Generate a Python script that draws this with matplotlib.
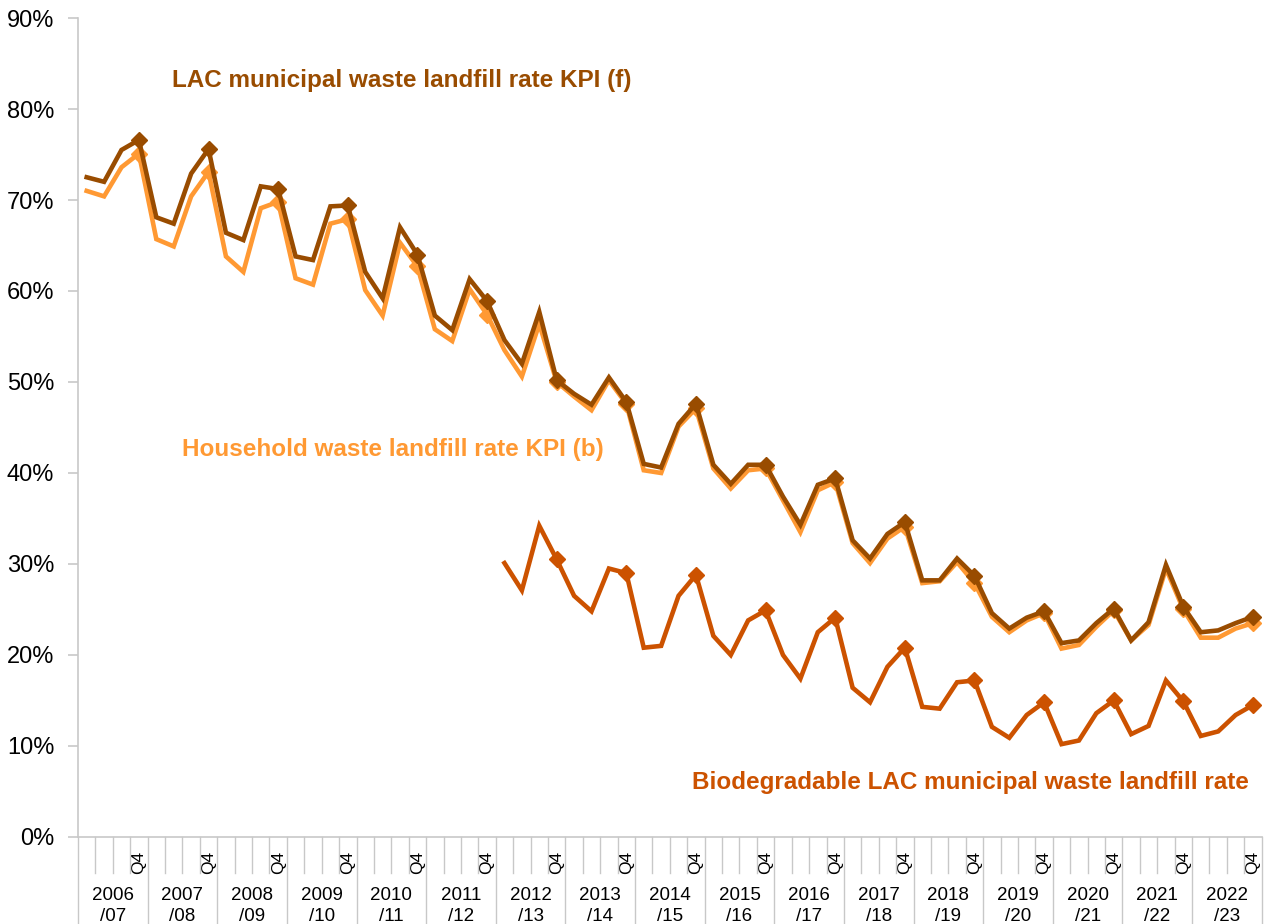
"""
Quarterly landfill rates (2006/07 to 2022/23) for LAC municipal waste,
household waste and biodegradable LAC municipal waste.
"""

import numpy as np
import matplotlib

matplotlib.use("Agg")
import matplotlib.pyplot as plt
import matplotlib.transforms as mtransforms

plt.rcParams["font.family"] = ["Liberation Sans", "DejaVu Sans"]

# Financial years on the x axis (four quarters each)
YEARS = ["2006/07", "2007/08", "2008/09", "2009/10", "2010/11", "2011/12",
         "2012/13", "2013/14", "2014/15", "2015/16", "2016/17", "2017/18",
         "2018/19", "2019/20", "2020/21", "2021/22", "2022/23"]
QUARTERS = ["Q1", "Q2", "Q3", "Q4"]

# LAC municipal waste landfill rate KPI (f), %
LAC_RATE = [72.5, 72.0, 75.5, 76.6,
            68.1, 67.4, 72.9, 75.6,
            66.4, 65.6, 71.5, 71.2,
            63.8, 63.4, 69.3, 69.4,
            62.1, 59.2, 67.0, 64.0,
            57.3, 55.7, 61.3, 58.9,
            54.6, 52.0, 57.7, 50.2,
            48.7, 47.5, 50.5, 47.8,
            41.0, 40.6, 45.4, 47.6,
            40.9, 38.8, 40.9, 40.9,
            37.4, 34.3, 38.7, 39.4,
            32.6, 30.6, 33.3, 34.6,
            28.2, 28.2, 30.6, 28.7,
            24.6, 22.9, 24.1, 24.8,
            21.3, 21.6, 23.5, 25.1,
            21.6, 23.6, 29.9, 25.3,
            22.5, 22.7, 23.5, 24.2]

# Household waste landfill rate KPI (b), %
HOUSEHOLD_RATE = [71.0, 70.4, 73.6, 75.1,
                  65.7, 64.9, 70.4, 73.1,
                  63.8, 62.1, 69.1, 69.8,
                  61.4, 60.7, 67.4, 67.9,
                  60.1, 57.3, 65.3, 62.7,
                  55.8, 54.5, 60.2, 57.4,
                  53.5, 50.6, 56.4, 50.0,
                  48.4, 46.9, 50.2, 47.6,
                  40.3, 40.0, 45.1, 47.1,
                  40.5, 38.3, 40.3, 40.5,
                  37.0, 33.5, 38.1, 39.0,
                  32.3, 30.1, 32.8, 34.1,
                  27.9, 28.1, 30.2, 27.9,
                  24.2, 22.5, 23.8, 24.6,
                  20.7, 21.1, 23.1, 24.9,
                  21.6, 23.3, 29.5, 25.0,
                  21.9, 21.9, 22.9, 23.5]

# Biodegradable LAC municipal waste landfill rate, % (series starts 2012/13)
BIO_RATE = [None] * 24 + [30.1, 27.1, 34.2, 30.5,
                          26.5, 24.8, 29.5, 29.0,
                          20.8, 21.0, 26.5, 28.8,
                          22.1, 20.0, 23.8, 24.9,
                          20.0, 17.4, 22.5, 24.1,
                          16.4, 14.8, 18.7, 20.8,
                          14.3, 14.1, 17.0, 17.2,
                          12.1, 10.9, 13.4, 14.8,
                          10.2, 10.6, 13.6, 15.0,
                          11.3, 12.2, 17.2, 14.9,
                          11.1, 11.6, 13.4, 14.5]

COLOR_LAC = "#994C00"
COLOR_HOUSEHOLD = "#FF9933"
COLOR_BIO = "#CC5200"
GRID_GREY = "#C8C8C8"


def draw_series(ax, x, values, color):
    """Plot one quarterly series with a diamond on every Q4."""
    y = np.array([np.nan if v is None else v for v in values], dtype=float)
    ax.plot(x, y, color=color, lw=3.3, marker="D", markersize=8,
            markevery=slice(3, None, 4), solid_joinstyle="miter")


def draw_category_axis(ax, n_quarters):
    """Excel-style multi-level category axis: Q4 labels, then years."""
    trans = mtransforms.blended_transform_factory(ax.transData, ax.transAxes)
    labels = [q if q == "Q4" else "" for _ in YEARS for q in QUARTERS]
    ax.set_xticks(np.arange(n_quarters))
    ax.set_xticklabels(labels, rotation=90, fontsize=12.5)
    ax.tick_params(axis="x", length=0, pad=10)

    for i in range(n_quarters + 1):
        bottom = -0.107 if i % 4 == 0 else -0.044
        ax.plot([i - 0.5, i - 0.5], [0, bottom], color=GRID_GREY, lw=1.0,
                transform=trans, clip_on=False)

    for k, year in enumerate(YEARS):
        first, second = year.split("/")
        ax.text(4 * k + 1.5, -0.071, first, ha="center", va="center",
                fontsize=13.5, transform=trans)
        ax.text(4 * k + 1.5, -0.097, "/" + second, ha="center", va="center",
                fontsize=13.5, transform=trans)


def main():
    n = len(YEARS) * 4
    x = np.arange(n)

    fig = plt.figure(figsize=(12.66, 9.24), dpi=100)
    ax = fig.add_axes([0.0616, 0.0942, 0.935, 0.8863])

    draw_series(ax, x, HOUSEHOLD_RATE, COLOR_HOUSEHOLD)
    draw_series(ax, x, LAC_RATE, COLOR_LAC)
    draw_series(ax, x, BIO_RATE, COLOR_BIO)

    ax.set_xlim(-0.5, n - 0.5)
    ax.set_ylim(0, 90)
    ax.set_yticks(np.arange(0, 91, 10))
    ax.set_yticklabels([f"{v}%" for v in range(0, 91, 10)], fontsize=17)
    ax.tick_params(axis="y", length=7, color=GRID_GREY, width=1.2, pad=10)

    for side in ["top", "right"]:
        ax.spines[side].set_visible(False)
    for side in ["left", "bottom"]:
        ax.spines[side].set_color(GRID_GREY)
        ax.spines[side].set_linewidth(1.2)

    draw_category_axis(ax, n)

    # Series labels placed next to the lines
    ax.text(4.9, 83.1, "LAC municipal waste landfill rate KPI (f)",
            color=COLOR_LAC, fontsize=17.5, fontweight="bold", va="center")
    ax.text(5.5, 42.6, "Household waste landfill rate KPI (b)",
            color=COLOR_HOUSEHOLD, fontsize=17.5, fontweight="bold", va="center")
    ax.text(34.8, 6.0, "Biodegradable LAC municipal waste landfill rate",
            color=COLOR_BIO, fontsize=17.5, fontweight="bold", va="center")

    fig.savefig("out.png", dpi=100)


if __name__ == "__main__":
    main()
